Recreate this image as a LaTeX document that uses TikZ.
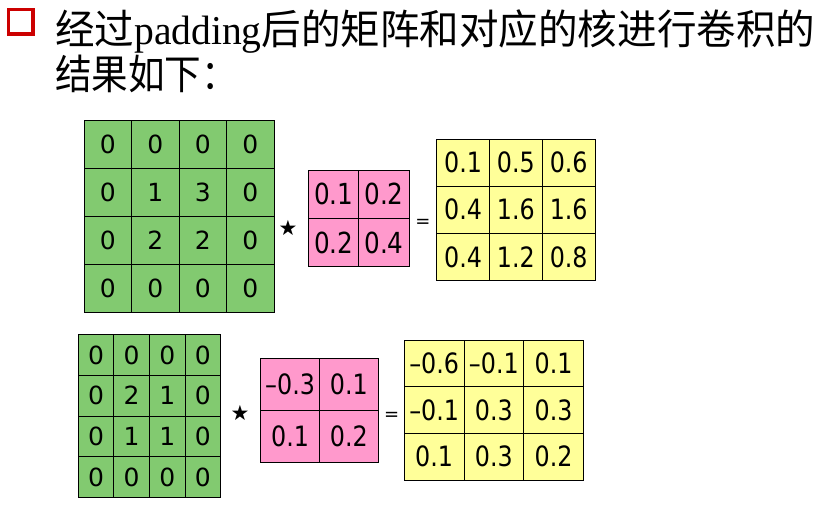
\documentclass[tikz,border=0pt]{standalone}
\usepackage{fontspec}
\setmainfont{Liberation Serif}
\newfontfamily\cjk{Noto Sans CJK SC}
\newfontfamily\numfont{DejaVu Sans}
\newfontfamily\decfont[FakeStretch=0.85]{DejaVu Sans}
\definecolor{gfill}{RGB}{130,202,112}
\definecolor{pfill}{RGB}{255,153,204}
\definecolor{yfill}{RGB}{255,255,153}
\definecolor{redbox}{RGB}{204,0,0}
\begin{document}
\begin{tikzpicture}[x=1pt,y=-1pt,
  cell/.style={draw=black, line width=1pt, inner sep=0pt, outer sep=0pt, anchor=north west},
  gcell/.style={cell, fill=gfill, font=\numfont\fontsize{25}{30}\selectfont},
  pcell/.style={cell, fill=pfill, font=\decfont\fontsize{29}{32}\selectfont},
  ycell/.style={cell, fill=yfill, font=\decfont\fontsize{28}{32}\selectfont},
  op/.style={inner sep=0pt, font=\numfont\fontsize{21}{21}\selectfont},
  title/.style={anchor=base west, inner sep=0pt, font=\fontsize{41}{46}\selectfont\cjk}]
\useasboundingbox (0,0) rectangle (824,504);
% title
\node[draw=redbox, line width=3.5pt, minimum size=24.5pt, inner sep=0pt] (box) at (20.5,21.5) {};
\node[title] (t1) at (55,44) {\resizebox{760pt}{\height}{经过{\rmfamily padding}后的矩阵和对应的核进行卷积的}};
\node[title] (t2) at (55,89) {\resizebox{183pt}{\height}{结果如下：}};
% top row
\foreach \rowvals [count=\r] in {{0,0,0,0},{0,1,3,0},{0,2,2,0},{0,0,0,0}} {
  \foreach \v [count=\c] in \rowvals {
    \node[gcell, minimum width=47.5pt, minimum height=48pt] (ga-\r-\c) at ({84+(\c-1)*47.5},{120+(\r-1)*48}) {\v};
  }
}
\node[op] (s1) at (288,228) {★};
\foreach \rowvals [count=\r] in {{0.1,0.2},{0.2,0.4}} {
  \foreach \v [count=\c] in \rowvals {
    \node[pcell, minimum width=50.3pt, minimum height=48.3pt] (ka-\r-\c) at ({308.5+(\c-1)*50.3},{170+(\r-1)*48.3}) {\v};
  }
}
\node[op, font=\numfont\fontsize{18}{18}\selectfont] (e1) at (423,223) {=};
\foreach \rowvals [count=\r] in {{0.1,0.5,0.6},{0.4,1.6,1.6},{0.4,1.2,0.8}} {
  \foreach \v [count=\c] in \rowvals {
    \node[ycell, minimum width=52.8pt, minimum height=47.2pt] (ra-\r-\c) at ({436.7+(\c-1)*52.8},{139+(\r-1)*47.2}) {\v};
  }
}
% bottom row
\foreach \rowvals [count=\r] in {{0,0,0,0},{0,2,1,0},{0,1,1,0},{0,0,0,0}} {
  \foreach \v [count=\c] in \rowvals {
    \node[gcell, minimum width=35.6pt, minimum height=40.8pt] (gb-\r-\c) at ({78.3+(\c-1)*35.6},{334.5+(\r-1)*40.8}) {\v};
  }
}
\node[op] (s2) at (240,413) {★};
\foreach \rowvals [count=\r] in {{–0.3,0.1},{0.1,0.2}} {
  \foreach \v [count=\c] in \rowvals {
    \node[pcell, font=\decfont\fontsize{28}{30}\selectfont, minimum width=58.8pt, minimum height=52pt] (kb-\r-\c) at ({260.7+(\c-1)*58.8},{358.3+(\r-1)*52}) {\v};
  }
}
\node[op, font=\numfont\fontsize{18}{18}\selectfont] (e2) at (391.7,416.7) {=};
\foreach \rowvals [count=\r] in {{–0.6,–0.1,0.1},{–0.1,0.3,0.3},{0.1,0.3,0.2}} {
  \foreach \v [count=\c] in \rowvals {
    \node[ycell, font=\decfont\fontsize{28}{30}\selectfont, minimum width=59.7pt, minimum height=46.7pt] (rb-\r-\c) at ({404.3+(\c-1)*59.7},{340+(\r-1)*46.7}) {\v};
  }
}
\end{tikzpicture}
\end{document}
